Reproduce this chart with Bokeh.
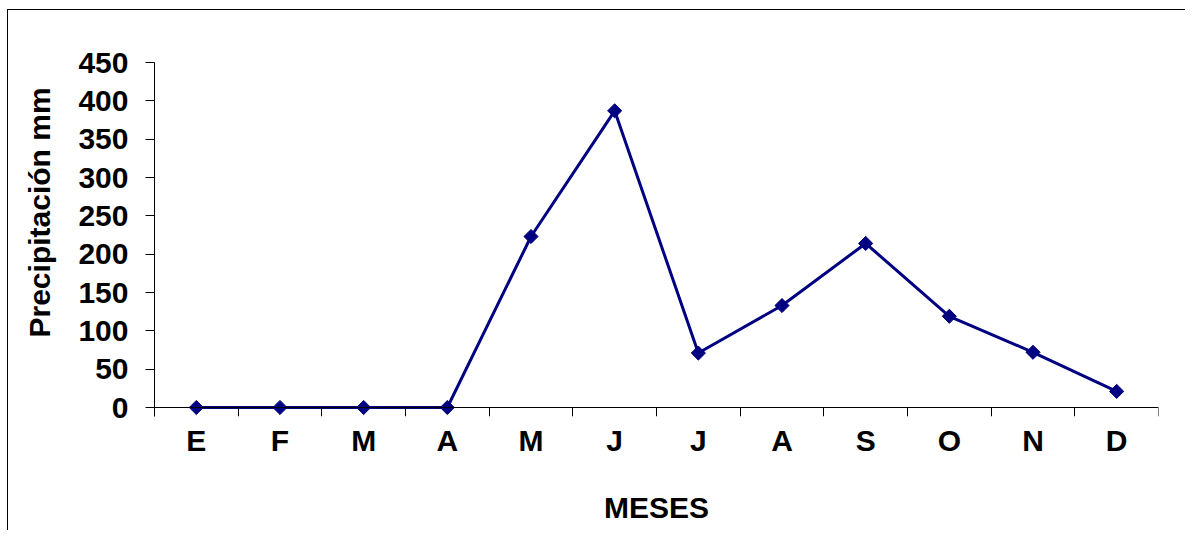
import numpy as np
from bokeh.plotting import figure
from bokeh.models import Range1d, FixedTicker, Title, LinearAxis
from bokeh.embed import file_html
from bokeh.resources import INLINE

months = ["E", "F", "M", "A", "M", "J", "J", "A", "S", "O", "N", "D"]
precip = [0, 0, 0, 0, 223, 387, 71, 133, 214, 119, 72, 21]
y_ticks = [0, 50, 100, 150, 200, 250, 300, 350, 400, 450]

FONT = "Liberation Sans"
FS = "30px"
LINE_COLOR = "#000080"

n = len(months)
xpos = np.arange(n) + 0.5
y_top = 450
# small extension below zero so markers on the zero line are not clipped
y_bottom = -y_top * 9 / 345

p = figure(width=1185, height=530, output_backend="svg", toolbar_location=None,
           x_range=Range1d(0, n), y_range=Range1d(y_bottom, y_top),
           min_border_left=153, min_border_right=27, min_border_top=62, min_border_bottom=114)
# outer chart-area border (top and left edges, as in the reference)
p.styles = {"background": "linear-gradient(#000,#000) 7px 9px / 100% 1px no-repeat, "
                          "linear-gradient(#000,#000) 7px 9px / 1px 100% no-repeat, #ffffff"}
p.border_fill_alpha = 0
p.outline_line_color = None
p.xgrid.visible = False
p.ygrid.visible = False
p.background_fill_color = "white"

p.line(xpos, precip, line_color=LINE_COLOR, line_width=3)
p.scatter(xpos, precip, marker="square", angle=np.pi / 4, size=10,
          fill_color=LINE_COLOR, line_color=LINE_COLOR, line_width=1)

# x axis line at y = 0 with ticks at category boundaries
xa = p.xaxis[0]
xa.fixed_location = 0
xa.ticker = FixedTicker(ticks=[], minor_ticks=list(range(n + 1)))
xa.major_tick_line_color = None
xa.major_tick_out = 0
xa.major_tick_in = 0
xa.minor_tick_out = 9
xa.minor_tick_in = 0
xa.minor_tick_line_color = "#000000"
xa.axis_line_color = "#000000"
xa.major_label_text_color = None

# category labels and axis title below the frame
xl = LinearAxis(ticker=FixedTicker(ticks=list(xpos), minor_ticks=[]))
xl.major_label_overrides = {float(x): m for x, m in zip(xpos, months)}
xl.axis_line_color = None
xl.major_tick_line_color = None
xl.minor_tick_line_color = None
xl.major_tick_out = 0
xl.major_tick_in = 0
xl.major_label_text_font = FONT
xl.major_label_text_font_style = "bold"
xl.major_label_text_font_size = FS
xl.major_label_text_color = "#000000"
xl.major_label_standoff = 7
xl.axis_label = "MESES"
xl.axis_label_text_font = FONT
xl.axis_label_text_font_style = "bold"
xl.axis_label_text_font_size = FS
xl.axis_label_text_color = "#000000"
xl.axis_label_standoff = 31
p.add_layout(xl, "below")

ya = p.yaxis[0]
ya.ticker = FixedTicker(ticks=y_ticks, minor_ticks=[])
ya.major_tick_out = 9
ya.major_tick_in = 0
ya.major_tick_line_color = "#000000"
ya.minor_tick_line_color = None
ya.axis_line_color = "#000000"
ya.major_label_text_font = FONT
ya.major_label_text_font_style = "bold"
ya.major_label_text_font_size = FS
ya.major_label_text_color = "#000000"
ya.major_label_standoff = 17

ytitle = Title(text="Precipitación mm", align="left", offset=79,
               text_font=FONT, text_font_style="bold", text_font_size=FS,
               text_color="#000000", standoff=40)
p.add_layout(ytitle, "left")

open("out.html", "w").write(file_html(p, INLINE))
